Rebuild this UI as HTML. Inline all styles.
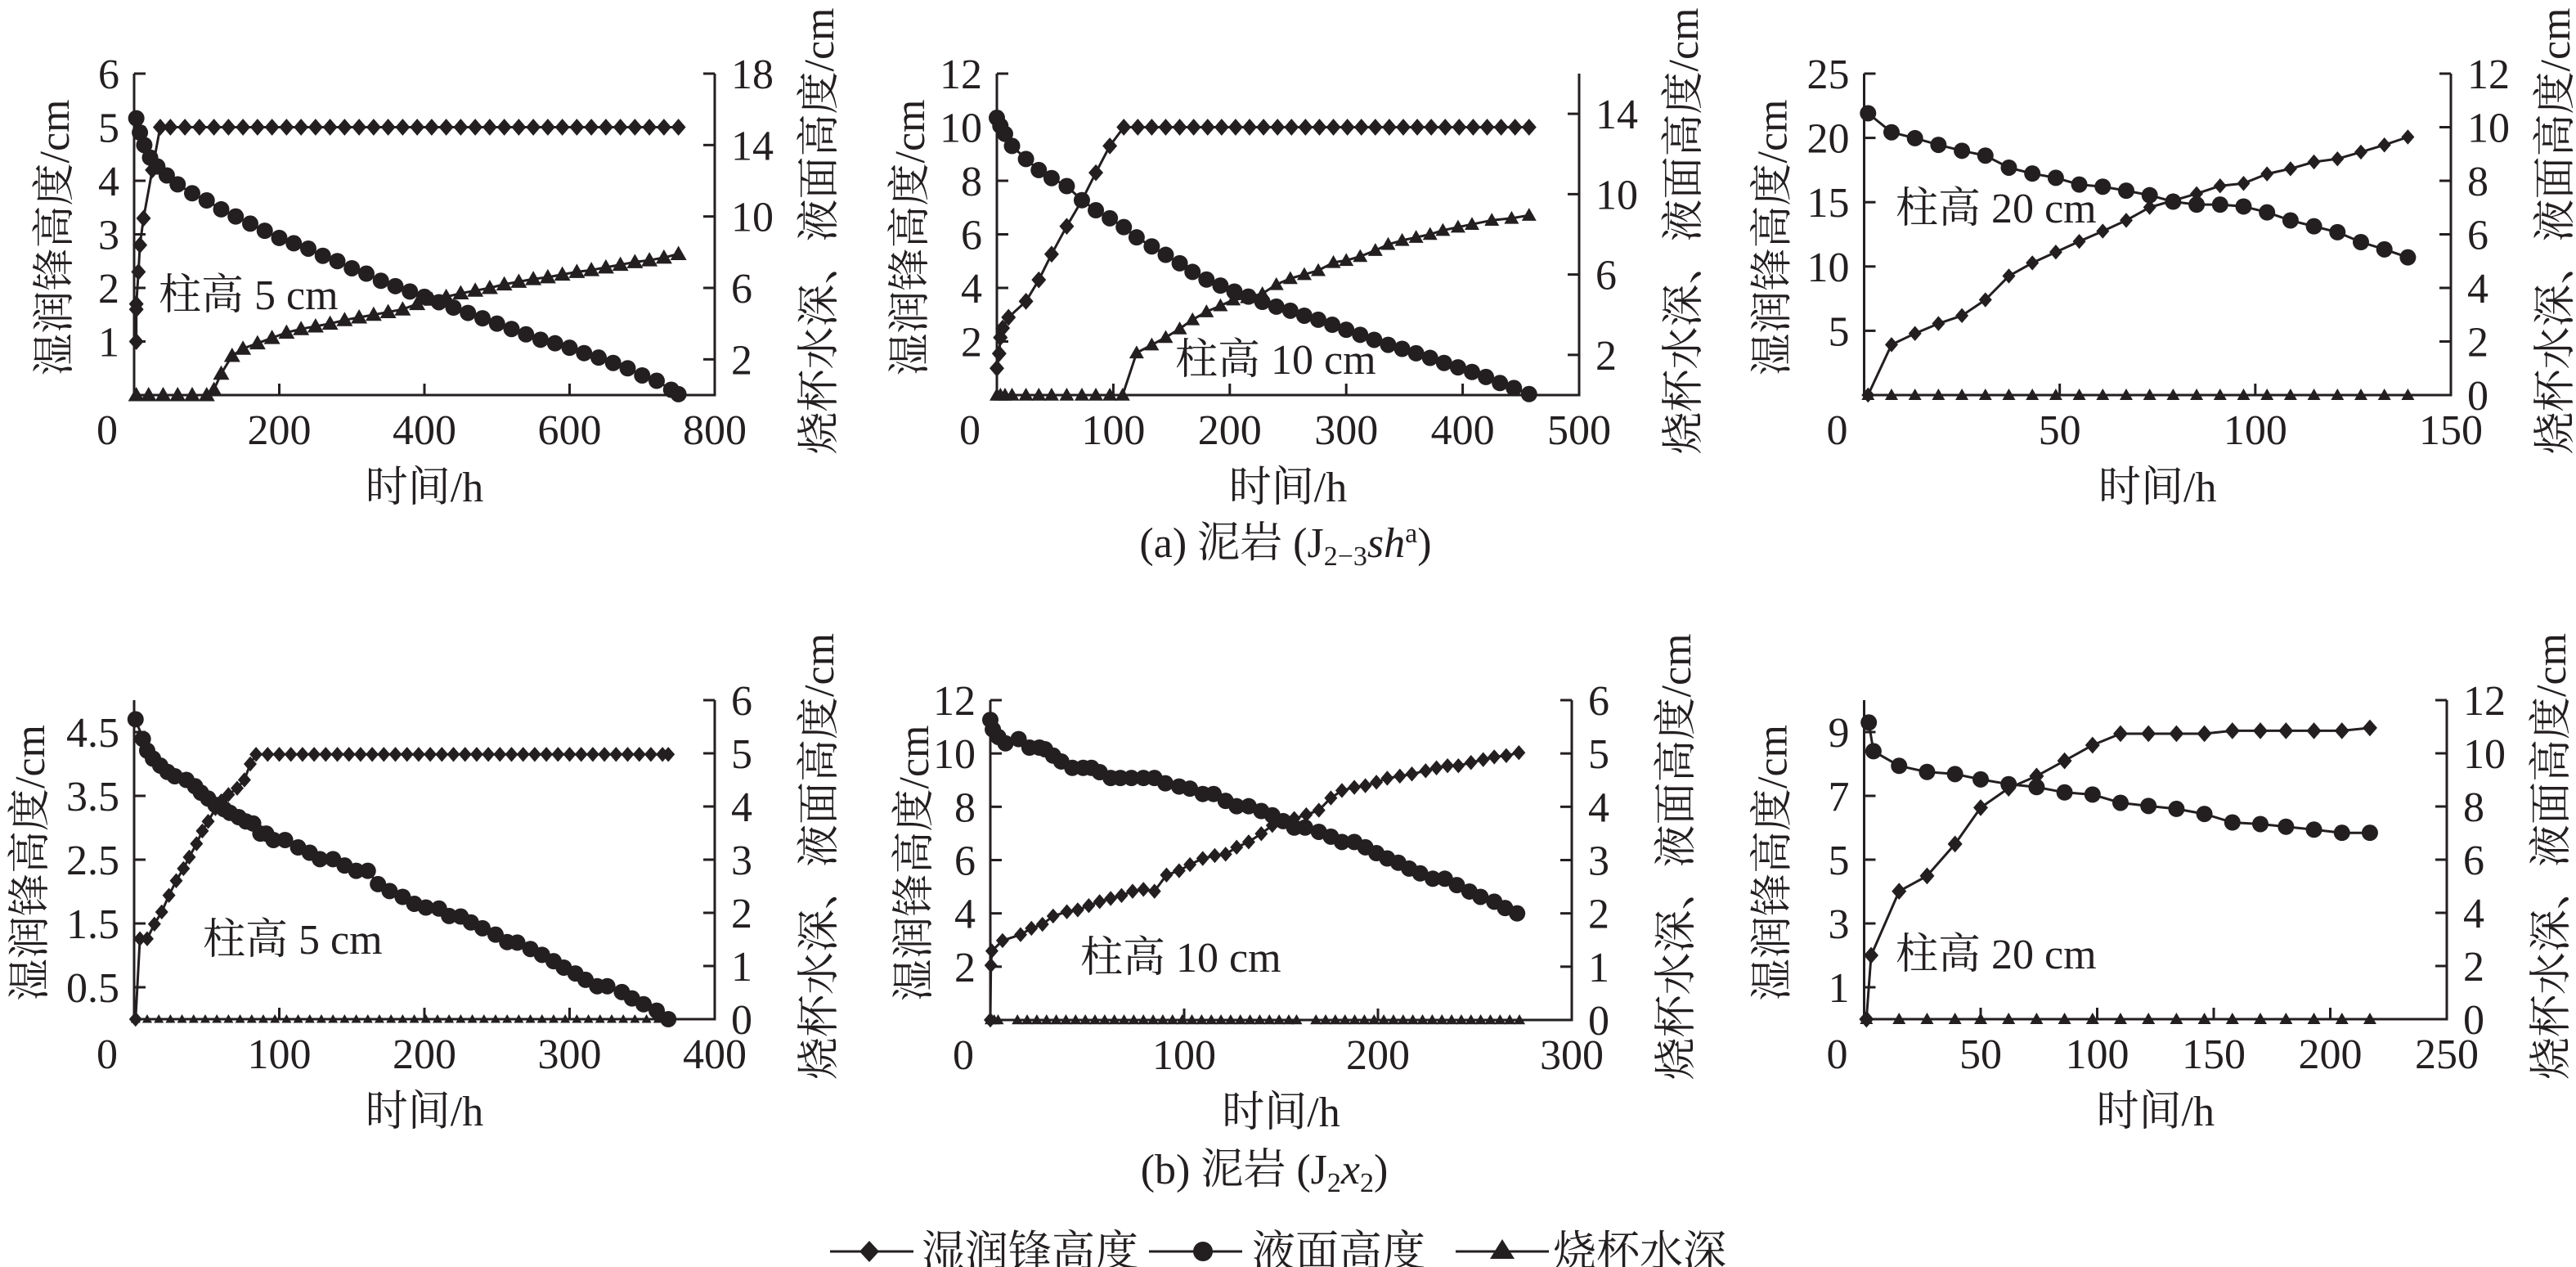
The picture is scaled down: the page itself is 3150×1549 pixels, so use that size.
<!DOCTYPE html>
<html><head><meta charset="utf-8"><style>
html,body{margin:0;padding:0;background:#fff}
svg{display:block}
text{font-family:"Liberation Serif","Noto Serif CJK SC",serif;fill:#231f20}
</style></head><body>
<svg id="fig" width="3150" height="1549" viewBox="0 0 3150 1549" xmlns="http://www.w3.org/2000/svg">
<rect width="3150" height="1549" fill="#fff"/>
<g id="layer"></g>
<text x="1572" y="681" font-size="52" text-anchor="middle">(a) 泥岩 (J<tspan font-size="34" dy="10">2−3</tspan><tspan dy="-10" font-style="italic">sh</tspan><tspan font-size="34" dy="-18">a</tspan><tspan dy="18">)</tspan></text>
<text x="1546" y="1447" font-size="52" text-anchor="middle">(b) 泥岩 (J<tspan font-size="34" dy="10">2</tspan><tspan dy="-10" font-style="italic">x</tspan><tspan font-size="34" dy="10">2</tspan><tspan dy="-10">)</tspan></text>
<g>
<line x1="1015" y1="1530" x2="1117" y2="1530" stroke="#231f20" stroke-width="3"/>
<path d="M1063,1517 L1075,1530 L1063,1543 L1051,1530 Z" fill="#231f20"/>
<text x="1127" y="1548" font-size="53">湿润锋高度</text>
<line x1="1405" y1="1530" x2="1519" y2="1530" stroke="#231f20" stroke-width="3"/>
<circle cx="1471" cy="1530" r="12" fill="#231f20"/>
<text x="1531" y="1548" font-size="53">液面高度</text>
<line x1="1780" y1="1530" x2="1894" y2="1530" stroke="#231f20" stroke-width="3"/>
<path d="M1837,1515 L1852,1539 L1822,1539 Z" fill="#231f20"/>
<text x="1899" y="1548" font-size="53">烧杯水深</text>
</g>
</svg>
<script>
// ---------- data (time in h, values in cm) ----------
const p1DiaT=[3,3,3,6,8,13,25,36,50,70,90,110,130,150,170,190,210,230,250,270,290,310,330,350,370,390,410,430,450,470,490,510,530,550,570,590,610,630,650,670,690,710,730,750];
const p1DiaV=[1,1.6,1.7,2.3,2.8,3.3,4.2,5,5,5,5,5,5,5,5,5,5,5,5,5,5,5,5,5,5,5,5,5,5,5,5,5,5,5,5,5,5,5,5,5,5,5,5,5];
const p1CirT=[3,8,14,22,32,45,60,80,100,120,140,160,180,200,220,240,260,280,300,320,340,360,380,400,420,440,460,480,500,520,540,560,580,600,620,640,660,680,700,720,740,750];
const p1CirV=[15.5,14.7,14.0,13.3,12.8,12.3,11.8,11.3,10.9,10.4,10.0,9.6,9.2,8.8,8.5,8.2,7.8,7.5,7.1,6.8,6.4,6.1,5.8,5.5,5.2,4.9,4.6,4.3,4.0,3.7,3.4,3.1,2.9,2.65,2.35,2.1,1.8,1.5,1.1,0.8,0.3,0.05];
const p1TriT=[3,20,40,60,80,100,110,120,135,150,170,190,210,230,250,270,290,310,330,350,370,390,410,430,450,470,490,510,530,550,570,590,610,630,650,670,690,710,730,750];
const p1TriV=[0,0,0,0,0,0,0.3,1.2,2.2,2.6,2.9,3.2,3.5,3.7,3.85,4.0,4.2,4.35,4.5,4.65,4.8,5.1,5.35,5.5,5.7,5.85,6.0,6.2,6.35,6.5,6.6,6.75,6.9,7.0,7.15,7.3,7.45,7.55,7.7,7.9];

const p2DiaT=[0,2,3,5,10,25,36,47,60,73,85,97,109,121,133,145,157,169,181,193,205,217,229,241,253,265,277,289,301,313,325,337,349,361,373,385,397,409,421,433,445,457];
const p2DiaV=[1.0,1.55,2.15,2.5,2.9,3.5,4.3,5.26,6.3,7.27,8.3,9.3,10,10,10,10,10,10,10,10,10,10,10,10,10,10,10,10,10,10,10,10,10,10,10,10,10,10,10,10,10,10];
const p2CirT=[0,3,7,13,25,36,47,60,73,85,97,109,120,133,145,157,168,180,192,204,216,228,240,252,264,276,288,300,312,324,336,348,360,372,384,396,408,420,432,444,457];
const p2CirV=[13.8,13.4,13.0,12.4,11.75,11.2,10.8,10.4,9.7,9.2,8.8,8.36,7.85,7.4,6.98,6.56,6.13,5.75,5.45,5.15,4.9,4.64,4.4,4.2,3.95,3.75,3.5,3.25,3.0,2.75,2.5,2.3,2.08,1.85,1.6,1.38,1.15,0.9,0.6,0.35,0.05];
const p2TriT=[0,3,7,13,25,36,47,60,73,85,97,108,120,133,145,157,168,180,192,203,215,228,240,252,264,276,289,300,312,325,336,348,360,372,383,396,408,425,442,457];
const p2TriV=[0,0,0,0,0,0,0,0,0,0,0,0,2.1,2.5,2.87,3.3,3.75,4.15,4.45,4.74,4.85,5.05,5.5,5.8,6.0,6.2,6.6,6.7,6.9,7.2,7.5,7.7,7.85,8.0,8.2,8.36,8.5,8.7,8.8,8.95];

const p3T=[1,7,13,19,25,31,37,43,49,55,61,67,73,79,85,91,97,103,109,115,121,127,133,139];
const p3DiaV=[0,3.92,4.79,5.56,6.18,7.41,9.26,10.28,11.12,11.95,12.75,13.59,14.6,15.13,15.66,16.27,16.46,17.2,17.6,18.13,18.37,18.9,19.45,20.07];
const p3CirV=[10.52,9.81,9.59,9.34,9.12,8.94,8.49,8.27,8.11,7.86,7.78,7.63,7.46,7.22,7.11,7.11,7.04,6.82,6.52,6.3,6.08,5.71,5.44,5.14];
const p3TriV=[0,0,0,0,0,0,0,0,0,0,0,0,0,0,0,0,0,0,0,0,0,0,0,0];

const p4DiaT=[1,4,9,14,19,24,29,34,38,43,47,51,56,60,65,71,76,80,84,92,100,108,116,124,132,140,148,156,164,172,180,188,196,204,212,220,228,236,244,252,260,268,276,284,292,300,308,316,324,332,340,348,356,364,368];
const p4DiaV=[0,1.26,1.26,1.49,1.68,1.94,2.17,2.36,2.54,2.75,2.95,3.1,3.3,3.42,3.52,3.62,3.75,4.0,4.15,4.15,4.15,4.15,4.15,4.15,4.15,4.15,4.15,4.15,4.15,4.15,4.15,4.15,4.15,4.15,4.15,4.15,4.15,4.15,4.15,4.15,4.15,4.15,4.15,4.15,4.15,4.15,4.15,4.15,4.15,4.15,4.15,4.15,4.15,4.15,4.15];
const p4CirT=[1,6,9,13,18,23,28,36,42,46,51,56,62,66,72,77,82,87,91,96,104,113,121,128,137,145,153,161,168,176,185,193,201,210,217,225,232,240,249,257,264,273,281,289,296,304,311,319,326,336,343,351,360,368];
const p4CirV=[5.64,5.27,5.05,4.9,4.77,4.65,4.57,4.5,4.38,4.26,4.15,4.03,3.95,3.88,3.8,3.72,3.68,3.49,3.49,3.37,3.37,3.23,3.13,3.01,3.01,2.89,2.79,2.79,2.54,2.41,2.3,2.17,2.1,2.08,1.94,1.93,1.82,1.71,1.59,1.45,1.44,1.32,1.21,1.09,0.97,0.86,0.74,0.62,0.62,0.51,0.39,0.28,0.16,0.0];
const p4TriT=[1,9,17,25,33,41,49,57,65,73,81,89,97,105,113,121,129,137,145,153,161,169,177,185,193,201,209,217,225,233,241,249,257,265,273,281,289,297,305,313,321,329,337,345,353,361,368];
const p4TriV=[0,0,0,0,0,0,0,0,0,0,0,0,0,0,0,0,0,0,0,0,0,0,0,0,0,0,0,0,0,0,0,0,0,0,0,0,0,0,0,0,0,0,0,0,0,0,0];

const p5DiaT=[0,0.3,0.8,6.3,15.6,21.2,26.9,32.4,39.5,45.1,50.8,56.4,62.1,67.7,73.4,79,84.7,90.9,97.4,103,109.6,115.8,121.4,127.1,133.3,139.8,145.5,151.1,156.8,163,169.5,175.7,181.4,187.8,193.5,199.2,204.8,211.3,217.5,224.6,230.2,235.9,241.5,248,254.3,260,266.2,272.7];
const p5DiaV=[0,2.05,2.59,2.98,3.2,3.44,3.59,3.9,4.06,4.13,4.29,4.44,4.56,4.67,4.83,4.9,4.83,5.44,5.6,5.83,6.06,6.17,6.22,6.48,6.68,6.99,7.3,7.45,7.56,7.7,7.87,8.33,8.61,8.73,8.79,8.92,9.07,9.15,9.23,9.35,9.46,9.54,9.54,9.66,9.77,9.87,9.92,10.03];
const p5CirT=[0,1.3,4.1,7.8,14.6,20.2,25.3,28.2,32.4,36.6,42.3,47.9,52.2,56.4,62.1,67.1,72.8,79,84.7,90.3,97.4,103,109.6,115.2,121.4,127.1,133.3,139.8,145.5,151.1,156.8,162.4,169.5,175.7,181.4,187.8,193.5,199.2,204.8,210.5,216.1,221.8,228.3,234.5,240.7,247.2,252.9,260,265.6,271.8];
const p5CirV=[5.63,5.45,5.31,5.19,5.27,5.11,5.11,5.08,4.96,4.85,4.73,4.73,4.73,4.65,4.54,4.54,4.54,4.54,4.54,4.44,4.38,4.34,4.24,4.24,4.11,4.01,4.01,3.92,3.84,3.73,3.61,3.61,3.53,3.44,3.34,3.34,3.24,3.13,3.03,2.95,2.84,2.75,2.65,2.65,2.53,2.41,2.31,2.22,2.1,2.0];
const p5TriAT=[0,2,4,14,19,24,29,34,39,44,49,54,59,64,69,74,79,84,89,94,99,104,109,114,119,124,129,134,139,144,149,154,158];
const p5TriAV=[0,0,0,0,0,0,0,0,0,0,0,0,0,0,0,0,0,0,0,0,0,0,0,0,0,0,0,0,0,0,0,0,0];
const p5TriBT=[168,173,178,183,188,193,198,203,208,213,218,223,228,233,238,243,248,253,258,263,268,273];
const p5TriBV=[0,0,0,0,0,0,0,0,0,0,0,0,0,0,0,0,0,0,0,0,0,0];

const p6DiaT=[1,3,15,27,39,50,62,74,86,98,110,122,134,146,158,170,181,193,205,217];
const p6DiaV=[0,2.0,4.01,4.49,5.49,6.63,7.24,7.62,8.1,8.59,8.95,8.95,8.95,8.95,9.04,9.04,9.04,9.04,9.04,9.13];
const p6CirT=[2,4,15,27,39,50,62,74,86,98,110,122,134,146,158,170,181,193,205,217];
const p6CirV=[11.16,10.08,9.53,9.3,9.22,9.02,8.84,8.73,8.53,8.45,8.14,8.02,7.91,7.72,7.4,7.34,7.24,7.13,7.01,7.01];
const p6TriT=[1,15,27,39,50,62,74,86,98,110,122,134,146,158,170,181,193,205,217];
const p6TriV=[0,0,0,0,0,0,0,0,0,0,0,0,0,0,0,0,0,0,0];

const xTicks1=[0,200,400,600,800], lTicks1=[1,2,3,4,5,6], rTicks1=[2,6,10,14,18];
const xTicks2=[0,100,200,300,400,500], lTicks2=[2,4,6,8,10,12], rTicks2=[2,6,10,14];
const xTicks3=[0,50,100,150], lTicks3=[5,10,15,20,25], rTicks3=[0,2,4,6,8,10,12];
const xTicks4=[0,100,200,300,400], lTicks4=[0.5,1.5,2.5,3.5,4.5], rTicks4=[0,1,2,3,4,5,6];
const xTicks5=[0,100,200,300], lTicks5=[2,4,6,8,10,12], rTicks5=[0,1,2,3,4,5,6];
const xTicks6=[0,50,100,150,200,250], lTicks6=[1,3,5,7,9], rTicks6=[0,2,4,6,8,10,12];

// ---------- layout ----------
const panels=[
 {id:'a-5cm',x0:164,x1:874,yb:483,yt:90,xmax:800,lmax:6,rmax:18,xt:xTicks1,lt:lTicks1,rt:rTicks1,label:'柱高 5 cm',lx:194,ly:378,ds:9,cr:10,ts:10,tOff:80,
  dia:[[p1DiaT,p1DiaV]],cir:[[p1CirT,p1CirV]],tri:[[p1TriT,p1TriV]]},
 {id:'a-10cm',x0:1219,x1:1931,yb:483,yt:90,xmax:500,lmax:12,rmax:16,xt:xTicks2,lt:lTicks2,rt:rTicks2,label:'柱高 10 cm',lx:1437,ly:457,ds:9,cr:10,ts:9,tOff:89,
  dia:[[p2DiaT,p2DiaV]],cir:[[p2CirT,p2CirV]],tri:[[p2TriT,p2TriV]]},
 {id:'a-20cm',x0:2279.5,x1:2997,yb:483,yt:90,xmax:150,lmax:25,rmax:12,xt:xTicks3,lt:lTicks3,rt:rTicks3,label:'柱高 20 cm',lx:2318,ly:272,ds:8,cr:10,ts:8,tOff:95,
  dia:[[p3T,p3DiaV]],cir:[[p3T,p3CirV]],tri:[[p3T,p3TriV]]},
 {id:'b-5cm',x0:164,x1:874,yb:1246,yt:856,xmax:400,lmax:5,rmax:6,xt:xTicks4,lt:lTicks4,rt:rTicks4,label:'柱高 5 cm',lx:248,ly:1166,ds:8,cr:10,ts:6,tOff:110,
  dia:[[p4DiaT,p4DiaV]],cir:[[p4CirT,p4CirV]],tri:[[p4TriT,p4TriV]]},
 {id:'b-10cm',x0:1211,x1:1922,yb:1247,yt:856,xmax:300,lmax:12,rmax:6,xt:xTicks5,lt:lTicks5,rt:rTicks5,label:'柱高 10 cm',lx:1321,ly:1188,ds:8,cr:10,ts:7,tOff:76,
  dia:[[p5DiaT,p5DiaV]],cir:[[p5CirT,p5CirV]],tri:[[p5TriAT,p5TriAV],[p5TriBT,p5TriBV]]},
 {id:'b-20cm',x0:2279.5,x1:2992,yb:1246,yt:856,xmax:250,lmax:10,rmax:12,xt:xTicks6,lt:lTicks6,rt:rTicks6,label:'柱高 20 cm',lx:2318,ly:1184,ds:9,cr:10,ts:8,tOff:95,
  dia:[[p6DiaT,p6DiaV]],cir:[[p6CirT,p6CirV]],tri:[[p6TriT,p6TriV]]}
];

const NS='http://www.w3.org/2000/svg';
const layer=document.getElementById('layer');
function mk(tag,attrs,parent){const e=document.createElementNS(NS,tag);for(const k in attrs)e.setAttribute(k,attrs[k]);(parent||layer).appendChild(e);return e;}
const INK='#231f20';

panels.forEach(p=>{
  const g=mk('g',{});
  
  
  const sx=t=>p.x0+t/p.xmax*(p.x1-p.x0);
  const sl=v=>p.yb-v/p.lmax*(p.yb-p.yt);
  const sr=v=>p.yb-v/p.rmax*(p.yb-p.yt);
  const ax=mk('path',{d:`M${p.x0},${p.yt} V${p.yb} H${p.x1} V${p.yt}`,fill:'none',stroke:INK,'stroke-width':3},g);
  
  
  p.xt.forEach((t,i)=>{
    const x=sx(t);
    if(i>0&&i<p.xt.length-1){
      const tk=mk('line',{x1:x,y1:p.yb,x2:x,y2:p.yb-14,stroke:INK,'stroke-width':3},g);
      
      
    }
    const lb=mk('text',{x:(i===0?x-33:x),y:p.yb+60,'font-size':52,'text-anchor':'middle'},g);
    lb.textContent=String(t);
    
    
  });
  p.lt.forEach(v=>{
    const y=sl(v);
    const tk=mk('line',{x1:p.x0,y1:y,x2:p.x0+14,y2:y,stroke:INK,'stroke-width':3},g);
    
    
    const lb=mk('text',{x:p.x0-18,y:y+18,'font-size':52,'text-anchor':'end'},g);
    lb.textContent=String(v);
    
    
  });
  p.rt.forEach(v=>{
    const y=sr(v);
    const tk=mk('line',{x1:p.x1,y1:y,x2:p.x1-14,y2:y,stroke:INK,'stroke-width':3},g);
    
    
    const lb=mk('text',{x:p.x1+20,y:y+18,'font-size':52,'text-anchor':'start'},g);
    lb.textContent=String(v);
    
    
  });
  const cy=(p.yb+p.yt)/2;
  const lt=mk('text',{x:0,y:0,'font-size':52,'text-anchor':'middle',transform:`translate(${p.x0-p.tOff},${cy+4}) rotate(-90)`},g);
  lt.textContent='湿润锋高度/cm';
  
  
  const rtt=mk('text',{x:0,y:0,'font-size':52,'text-anchor':'middle',transform:`translate(${p.x1+145},${cy-4}) rotate(-90)`},g);
  rtt.textContent='烧杯水深、液面高度/cm';
  
  
  const xt=mk('text',{x:(p.x0+p.x1)/2,y:p.yb+130,'font-size':52,'text-anchor':'middle'},g);
  xt.textContent='时间/h';
  
  
  const lab=mk('text',{x:p.lx,y:p.ly,'font-size':52},g);
  lab.textContent=p.label;
  
  

  function line(T,V,sy,name){
    const d=T.map((t,i)=>(i?'L':'M')+sx(t).toFixed(1)+','+sy(V[i]).toFixed(1)).join(' ');
    const pl=mk('path',{d:d,fill:'none',stroke:INK,'stroke-width':3,'stroke-linejoin':'round'},g);
    
    
  }
  p.tri.forEach(([T,V])=>{
    line(T,V,sr,'beaker-depth-line');
    T.forEach((t,i)=>{const x=sx(t),y=sr(V[i]),s=p.ts;
      const m=mk('path',{d:`M${x},${y-s} L${x+s},${y+s*0.75} L${x-s},${y+s*0.75} Z`,fill:INK},g);
      
      });
  });
  p.cir.forEach(([T,V])=>{
    line(T,V,sr,'liquid-level-line');
    T.forEach((t,i)=>{
      const m=mk('circle',{cx:sx(t),cy:sr(V[i]),r:p.cr,fill:INK},g);
      
      });
  });
  p.dia.forEach(([T,V])=>{
    line(T,V,sl,'wetting-front-line');
    T.forEach((t,i)=>{const x=sx(t),y=sl(V[i]),s=p.ds;
      const m=mk('path',{d:`M${x},${y-s*1.15} L${x+s},${y} L${x},${y+s*1.15} L${x-s},${y} Z`,fill:INK},g);
      
      });
  });
});
</script>
</body></html>
